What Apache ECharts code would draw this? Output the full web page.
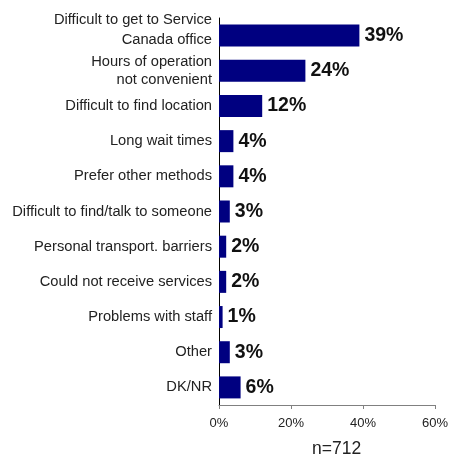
<!DOCTYPE html>
<html>
<head>
<meta charset="utf-8">
<script src="https://cdn.jsdelivr.net/npm/echarts@6/dist/echarts.min.js"></script>
<style>
  html, body { margin: 0; padding: 0; background: #fff; }
  #chart { width: 451px; height: 459px; }
</style>
</head>
<body>
<div id="chart"></div>
<script>
// Reasons for difficulty (listed top to bottom)
const categories = [
  'Difficult to get to Service\nCanada office',
  'Hours of operation\nnot convenient',
  'Difficult to find location',
  'Long wait times',
  'Prefer other methods',
  'Difficult to find/talk to someone',
  'Personal transport. barriers',
  'Could not receive services',
  'Problems with staff',
  'Other',
  'DK/NR'
];
const percentValues = [39, 24, 12, 4, 4, 3, 2, 2, 1, 3, 6];
const xTicks = [0, 20, 40, 60];
const sampleNote = 'n=712';

const FONT = '"Liberation Sans", Arial, sans-serif';
const LABEL_SIZE = 14.7;
const chart = echarts.init(document.getElementById('chart'), null, { renderer: 'canvas' });

// The top label sits a little higher than its bar, with looser line spacing:
// an empty trailing rich-text line lifts it.
function categoryLabel(value, index) {
  if (index !== 0) return value;
  return value.split('\n').map(line => '{top|' + line + '}').join('\n') + '\n{gap|}';
}

chart.setOption({
  animation: false,
  backgroundColor: '#ffffff',
  grid: { left: 219, right: 14, top: 18, bottom: 54, containLabel: false },
  graphic: [{
    type: 'text',
    left: 312,
    top: 440,
    style: {
      text: sampleNote,
      font: '17.5px ' + FONT,
      fill: '#222'
    }
  }],
  xAxis: {
    type: 'value',
    min: xTicks[0],
    max: xTicks[xTicks.length - 1],
    interval: 20,
    splitLine: { show: false },
    axisLine: { show: true, lineStyle: { color: '#808080', width: 1 } },
    axisTick: { show: true, length: 4, lineStyle: { color: '#808080' } },
    axisLabel: {
      formatter: v => v + '%',
      color: '#222',
      fontSize: 13,
      fontFamily: FONT,
      margin: 12
    }
  },
  yAxis: {
    type: 'category',
    inverse: true,
    data: categories,
    axisLine: { show: true, lineStyle: { color: '#000', width: 1 } },
    axisTick: { show: false },
    axisLabel: {
      interval: 0,
      hideOverlap: false,
      color: '#222',
      fontSize: LABEL_SIZE,
      lineHeight: 18,
      fontFamily: FONT,
      margin: 7,
      align: 'right',
      formatter: categoryLabel,
      rich: {
        top: { fontSize: LABEL_SIZE, fontFamily: FONT, color: '#222', lineHeight: 20, align: 'right' },
        gap: { fontSize: 1, lineHeight: 12 }
      }
    }
  },
  series: [{
    type: 'bar',
    data: percentValues,
    barWidth: 22,
    itemStyle: { color: '#000080' },
    label: {
      show: true,
      position: 'right',
      distance: 5,
      formatter: p => p.value + '%',
      color: '#111',
      fontSize: 19.5,
      fontWeight: 'bold',
      fontFamily: FONT
    }
  }]
});
</script>
</body>
</html>
